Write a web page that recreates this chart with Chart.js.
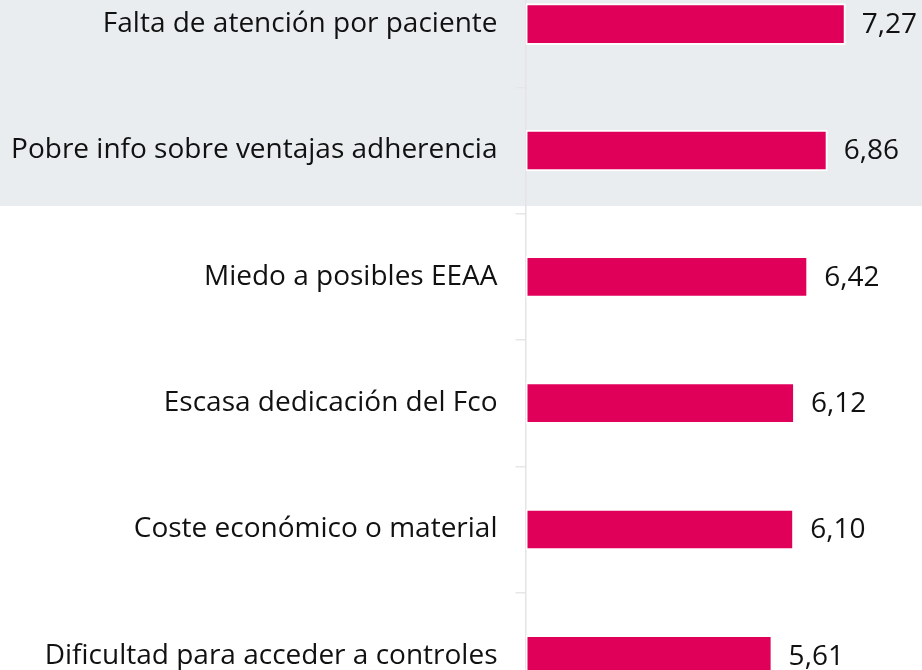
<!DOCTYPE html>
<html>
<head>
<meta charset="utf-8">
<script src="https://cdn.jsdelivr.net/npm/chart.js@4/dist/chart.umd.min.js"></script>
<style>
  html, body { margin: 0; padding: 0; background: #ffffff; }
  #wrap { position: relative; width: 922px; height: 670px; overflow: hidden; background: #ffffff; }
  #c { position: absolute; left: 0; top: -39.5px; }
</style>
</head>
<body>
<div id="wrap"><canvas id="c" width="1000" height="758"></canvas></div>
<script>
const categories = [
  "Falta de atención por paciente",
  "Pobre info sobre ventajas adherencia",
  "Miedo a posibles EEAA",
  "Escasa dedicación del Fco",
  "Coste económico o material",
  "Dificultad para acceder a controles"
];
const values = [7.27, 6.86, 6.42, 6.12, 6.10, 5.61];
const highlightedUpTo = 1; // first two categories sit on the shaded band

const FONT = { family: "'Open Sans', Lato, sans-serif", size: 28 };
const BAR = '#e0005a';
const BAND = '#e9edef';

const bandPlugin = {
  id: 'band',
  beforeDraw(chart) {
    const y = chart.scales.y;
    const ctx = chart.ctx;
    ctx.save();
    ctx.fillStyle = BAND;
    ctx.fillRect(0, 0, chart.width, y.getPixelForValue(highlightedUpTo + 0.44));
    ctx.restore();
  }
};

const valuePlugin = {
  id: 'vals',
  afterDatasetsDraw(chart) {
    const ctx = chart.ctx;
    const meta = chart.getDatasetMeta(0);
    ctx.save();
    ctx.font = FONT.size + 'px ' + FONT.family;
    ctx.fillStyle = '#111111';
    ctx.textAlign = 'left';
    ctx.textBaseline = 'middle';
    meta.data.forEach((el, i) => {
      const txt = values[i].toFixed(2).replace('.', ',');
      ctx.fillText(txt, el.x + 16, el.y + 1);
    });
    ctx.restore();
  }
};

new Chart(document.getElementById('c'), {
  type: 'bar',
  data: {
    labels: categories,
    datasets: [{
      data: values,
      backgroundColor: BAR,
      borderColor: '#ffffff',
      borderWidth: 2,
      borderSkipped: false,
      barPercentage: 0.33,
      categoryPercentage: 1
    }]
  },
  options: {
    indexAxis: 'y',
    responsive: false,
    animation: false,
    devicePixelRatio: 1,
    layout: { padding: { left: 0, right: 34, top: 0, bottom: 0 } },
    plugins: { legend: { display: false }, tooltip: { enabled: false } },
    scales: {
      x: { display: false, min: 0, max: 10 },
      y: {
        afterFit(scale) { scale.width = 525.5; scale.paddingTop = 0; scale.paddingBottom = 0; },
        grid: { drawOnChartArea: false, drawTicks: true, tickLength: 10, color: '#e6e6e6', lineWidth: 1.5 },
        border: { display: true, color: '#e4e4e4', width: 1.5 },
        ticks: { color: '#111111', font: FONT, padding: 18 }
      }
    }
  },
  plugins: [bandPlugin, valuePlugin]
});
</script>
</body>
</html>
